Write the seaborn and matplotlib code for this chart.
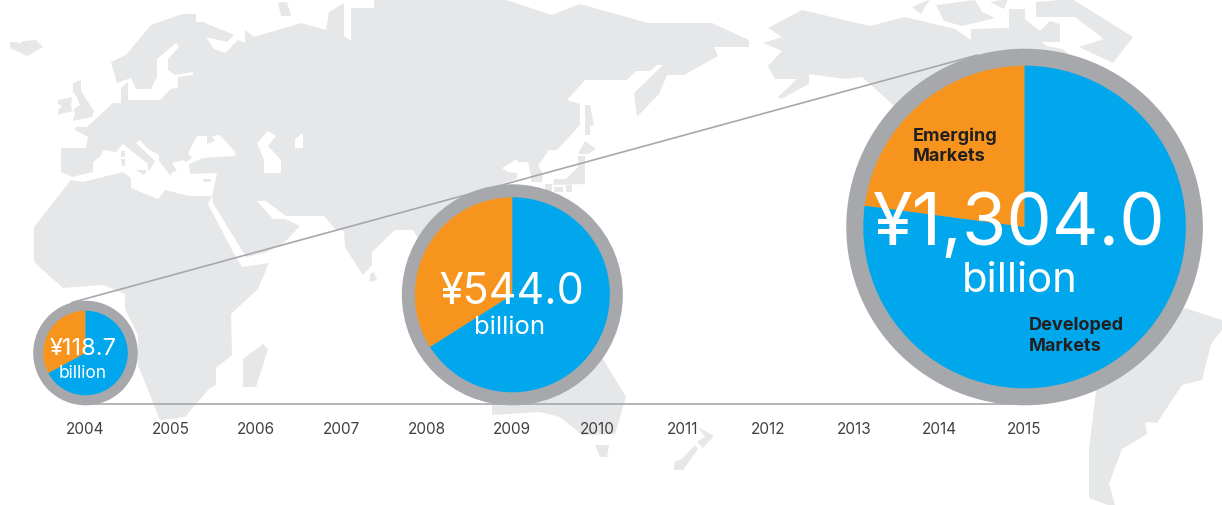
import numpy as np
import pandas as pd
import seaborn as sns
import matplotlib.pyplot as plt
from matplotlib.patches import Circle

# chart data
years = list(range(2004, 2016))
pie_years = [2004, 2009, 2015]
totals = [118.7, 544.0, 1304.0]
emerging_share = [32.9, 34.0, 22.9]
developed_share = [67.1, 66.0, 77.1]

# layout, all in reference pixels
W, H = 1222, 506
YEAR_PX = 85.37
X_2004 = 85.5
AXIS_Y = 405.0
BOTTOM_Y = 406.3
inner_radius = [42.3, 97.5, 161.3]
outer_radius = [52.3, 110.5, 178.3]
value_labels = [(83.5, 349, 17), (512, 292, 31), (1019, 226, 52)]
unit_labels = [(83, 374, 12.5), (510, 328, 18.5), (1020, 281, 30)]

ORANGE = '#f7941d'
BLUE = '#00a7ec'
RING = '#a6a8ab'
LAND = '#e6e7e8'
DARK = '#231f20'

# background map outlines
eurasia = [(61, 149), (86, 149), (88, 138), (75, 131), (76, 128), (87, 128), (113, 104), (121, 104), (121, 89),
           (128, 83), (128, 101), (160, 101), (171, 90), (178, 89), (178, 78), (193, 76), (193, 73), (175, 76),
           (168, 71), (168, 60), (179, 48), (176, 44), (157, 60), (157, 78), (151, 90), (136, 90), (131, 79),
           (117, 84), (111, 63), (126, 56), (151, 26), (182, 15), (196, 15), (196, 23), (203, 23), (234, 36),
           (227, 43), (206, 38), (214, 50), (225, 54), (238, 41), (245, 44), (245, 31), (254, 38), (301, 24),
           (326, 31), (329, 13), (344, 4), (344, 37), (351, 42), (351, 9), (374, 9), (374, 0), (503, 0), (552, 16),
           (580, 5), (648, 24), (712, 24), (749, 41), (749, 48), (714, 48), (718, 57), (684, 76), (667, 76),
           (659, 95), (637, 118), (634, 94), (663, 66), (657, 66), (650, 72), (636, 72), (627, 81), (585, 81),
           (567, 101), (580, 105), (580, 126), (557, 151), (549, 151), (538, 167), (543, 175), (542, 183),
           (531, 183), (531, 177), (528, 163), (517, 163), (517, 160), (502, 169), (507, 173), (517, 174),
           (517, 180), (500, 185), (500, 215), (450, 280), (420, 243), (413, 231), (395, 231), (372, 253),
           (372, 266), (363, 276), (348, 253), (345, 248), (344, 232), (335, 230), (324, 217), (286, 217),
           (266, 202), (257, 202), (273, 220), (285, 220), (300, 227), (285, 243), (267, 253), (247, 258),
           (243, 253), (213, 204), (212, 197), (217, 174), (190, 175), (189, 165), (203, 159), (234, 157),
           (236, 154), (220, 136), (212, 137), (215, 142), (207, 145), (207, 137), (197, 137), (188, 154),
           (192, 159), (186, 163), (183, 161), (172, 164), (177, 172), (172, 173), (171, 177), (159, 162),
           (159, 156), (148, 150), (140, 141), (136, 144), (155, 162), (149, 172), (147, 164), (123, 145),
           (116, 153), (103, 151), (101, 157), (93, 163), (93, 173), (72, 178), (61, 173)]
africa = [(71, 181), (83, 183), (123, 173), (131, 179), (131, 189), (158, 200), (165, 191), (189, 197), (212, 197),
          (208, 205), (233, 253), (242, 268), (269, 264), (258, 290), (231, 315), (232, 356), (216, 369), (216, 386),
          (209, 390), (185, 418), (160, 421), (138, 366), (138, 336), (125, 310), (125, 295), (103, 286), (63, 289),
          (34, 263), (34, 228)]
north_america = [(802, 11), (768, 29), (782, 38), (763, 44), (782, 52), (768, 67), (775, 80), (797, 80), (778, 98),
                 (781, 100), (809, 85), (809, 75), (845, 80), (862, 78), (892, 105), (1000, 200), (1070, 60),
                 (1047, 47), (1042, 43), (1060, 43), (1060, 25), (1050, 22), (1040, 32), (1025, 20), (1025, 10),
                 (1009, 10), (1009, 29), (971, 30), (971, 41), (955, 30), (905, 18), (870, 27)]
south_america = [(1185, 309), (1222, 321), (1222, 331), (1211, 345), (1202, 381), (1182, 386), (1157, 424),
                 (1145, 423), (1147, 435), (1122, 450), (1109, 485), (1115, 506), (1108, 506), (1089, 499),
                 (1089, 450), (1096, 393), (1100, 340)]
australia = [(560, 350), (603, 360), (626, 398), (615, 435), (582, 436), (560, 418), (540, 413), (492, 416),
             (492, 406), (520, 380)]
islands = [
    [(10, 43), (17, 43), (19, 45), (23, 42), (36, 41), (43, 48), (27, 57), (10, 49)],
    [(58, 101), (72, 98), (71, 107), (73, 112), (58, 116), (58, 112), (62, 107), (58, 105)],
    [(73, 84), (81, 81), (81, 92), (94, 112), (92, 118), (73, 122), (75, 115), (74, 110), (80, 106), (77, 98), (73, 93)],
    [(121, 152), (125, 152), (125, 158), (121, 158)],
    [(121, 160), (125, 160), (125, 167), (122, 167)],
    [(136, 171), (147, 171), (144, 176)],
    [(203, 180), (211, 180), (210, 183), (204, 183)],
    [(278, 3), (287, 3), (291, 17), (281, 17)],
    [(370, 275), (374, 273), (377, 281), (370, 283)],
    [(243, 360), (263, 345), (268, 350), (256, 388), (243, 388)],
    [(585, 142), (596, 150), (588, 155), (578, 155)],
    [(585, 106), (590, 106), (594, 127), (590, 127), (590, 136), (585, 136)],
    [(578, 157), (585, 157), (585, 185), (553, 186), (554, 180), (566, 180), (578, 168)],
    [(545, 185), (552, 185), (552, 193), (545, 193)],
    [(554, 188), (563, 188), (563, 193), (554, 193)],
    [(566, 186), (572, 186), (572, 193), (566, 193)],
    [(595, 446), (609, 446), (607, 458), (600, 458)],
    [(698, 428), (714, 437), (703, 449), (697, 443), (705, 438)],
    [(698, 450), (683, 471), (674, 471), (674, 463), (682, 460), (695, 446)],
    [(912, 8), (930, 0), (921, 15)],
    [(936, 6), (975, 1), (982, 13), (995, 19), (962, 27), (944, 22)],
    [(990, 3), (1008, 0), (1004, 10)],
    [(1036, 18), (1036, 3), (1072, 0), (1133, 38), (1113, 64), (1079, 48), (1104, 40), (1075, 18)],
    [(1047, 47), (1062, 50), (1075, 60), (1050, 60)],
]
lakes = [
    [(257, 144), (268, 132), (276, 137), (268, 147), (281, 161), (281, 174), (264, 174), (264, 161)],
    [(295, 140), (303, 134), (303, 149), (295, 149)],
]


def draw_map(fig) -> None:
    map_ax = fig.add_axes([0, 0, 1, 1])
    map_ax.set_xlim(0, W)
    map_ax.set_ylim(H, 0)
    map_ax.axis('off')
    for shape in [eurasia, africa, north_america, south_america, australia] + islands:
        map_ax.fill(*zip(*shape), color=LAND, lw=0)
    for shape in lakes:
        map_ax.fill(*zip(*shape), color='white', lw=0)


def top_tangent(x1, r1, x2, r2) -> pd.DataFrame:
    """Upper line touching the first and the last ring, both sitting on the same baseline."""
    bottom = (AXIS_Y - BOTTOM_Y) / YEAR_PX
    c1, c2 = np.array([x1, bottom + r1]), np.array([x2, bottom + r2])
    length = np.hypot(*(c2 - c1))
    unit = (c2 - c1) / length
    perp = np.array([-unit[1], unit[0]])
    cos_a = (r1 - r2) / length
    normal = unit * cos_a + perp * np.sqrt(1 - cos_a ** 2)
    p1, p2 = c1 + r1 * normal, c2 + r2 * normal
    return pd.DataFrame({'x': [p1[0], p2[0]], 'y': [p1[1], p2[1]]})


def px_text(fig, x, y, s, **kwargs) -> None:
    fig.text(x / W, 1 - y / H, s, **kwargs)


def main() -> None:
    sns.set_theme(style='white')
    plt.rcParams['font.family'] = ['Inter', 'Liberation Sans', 'DejaVu Sans']

    fig = plt.figure(figsize=(W / 100, H / 100), dpi=100)
    draw_map(fig)

    ax = fig.add_axes([0, 1 - AXIS_Y / H, 1, AXIS_Y / H])
    ax.patch.set_alpha(0)

    for year, emerging, developed, r_in, r_out in zip(pie_years, emerging_share, developed_share,
                                                      inner_radius, outer_radius):
        bottom = (AXIS_Y - BOTTOM_Y) / YEAR_PX
        center = (year, bottom + r_out / YEAR_PX)
        ax.add_patch(Circle(center, r_out / YEAR_PX, color=RING, lw=0, zorder=3, clip_on=False))
        ax.pie([emerging, developed], colors=sns.color_palette([ORANGE, BLUE]), startangle=90,
               center=center, radius=r_in / YEAR_PX, frame=True,
               wedgeprops={'linewidth': 0, 'zorder': 4, 'clip_on': False})

    line_df = top_tangent(pie_years[0], outer_radius[0] / YEAR_PX, pie_years[-1], outer_radius[-1] / YEAR_PX)
    sns.lineplot(data=line_df, x='x', y='y', color=RING, linewidth=1.2, ax=ax, zorder=2)

    ax.set_xlim(2004 - X_2004 / YEAR_PX, 2004 + (W - X_2004) / YEAR_PX)
    ax.set_ylim(0, AXIS_Y / YEAR_PX)
    ax.set_xlabel('')
    ax.set_ylabel('')
    ax.set_yticks([])
    ax.set_xticks(years)
    ax.set_xticklabels([str(y) for y in years], fontsize=11, color='#414042')
    ax.tick_params(axis='x', length=0, pad=12.5)
    sns.despine(ax=ax, left=True, right=True, top=True)
    ax.spines['bottom'].set_bounds(years[0], years[-1])
    ax.spines['bottom'].set_color(RING)
    ax.spines['bottom'].set_linewidth(1.2)

    for total, (x, y, size) in zip(totals, value_labels):
        px_text(fig, x, y, f'¥{total:,.1f}', color='white', fontsize=size, ha='center', va='center', zorder=6)
    for x, y, size in unit_labels:
        px_text(fig, x, y, 'billion', color='white', fontsize=size, ha='center', va='center', zorder=6)

    px_text(fig, 913, 146, 'Emerging\nMarkets', color=DARK, fontsize=13, fontweight='bold', ha='left', va='center',
            linespacing=1.25)
    px_text(fig, 1029, 336, 'Developed\nMarkets', color=DARK, fontsize=13, fontweight='bold', ha='left', va='center',
            linespacing=1.25)

    fig.savefig('out.png', dpi=100)


if __name__ == '__main__':
    main()
